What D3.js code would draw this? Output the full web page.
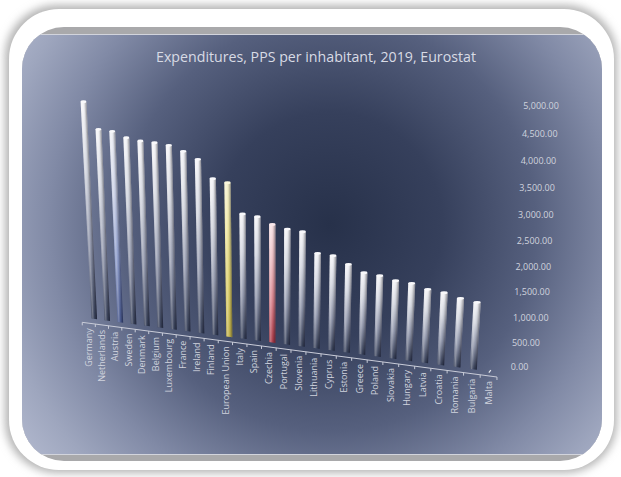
<!DOCTYPE html>
<html>
<head>
<meta charset="utf-8">
<script src="https://cdn.jsdelivr.net/npm/d3@7"></script>
<style>
  body { margin: 0; background: #ffffff; }
  svg { display: block; font-family: "Open Sans", "Noto Sans", sans-serif; }
</style>
</head>
<body>
<div id="chart"></div>
<script>
// data (PPS per inhabitant, 2019)
const countries = ["Germany", "Netherlands", "Austria", "Sweden", "Denmark", "Belgium", "Luxembourg",
    "France", "Ireland", "Finland", "European Union", "Italy", "Spain", "Czechia", "Portugal", "Slovenia",
    "Lithuania", "Cyprus", "Estonia", "Greece", "Poland", "Slovakia", "Hungary", "Latvia", "Croatia",
    "Romania", "Bulgaria", "Malta"];
const values = [4511, 3985, 3964, 3857, 3812, 3798, 3768, 3671, 3537, 3182, 3128, 2541, 2515, 2389,
    2329, 2305, 1913, 1898, 1762, 1630, 1605, 1542, 1525, 1444, 1414, 1342, 1302, 0];
const valueTicks = [0, 500, 1000, 1500, 2000, 2500, 3000, 3500, 4000, 4500, 5000];
const title = "Expenditures, PPS per inhabitant, 2019, Eurostat";

const width = 621, height = 477;

const svg = d3.select("#chart").append("svg")
    .attr("width", width)
    .attr("height", height);

const defs = svg.append("defs");

// category -> position along the row, value -> height (0..1)
const u = d3.scalePoint().domain(countries).range([0, countries.length - 1]);
const v = d3.scaleLinear().domain([0, 5000]).range([0, 1]);

// perspective of the plane holding the bars
const H = { a: 12.494, b: -17.23, c: 94.3, d: 0.3173, e: -247.05, f: 318.8, g: -0.0044, h: -0.06335 };
const project = (uu, vv) => {
    const D = H.g * uu + H.h * vv + 1;
    return [(H.a * uu + H.b * vv + H.c) / D, (H.d * uu + H.e * vv + H.f) / D];
};
// value axis sits on the back wall
const axisPt = vv => {
    const D = 1 - 0.0622 * vv;
    return [(510.7 - 19.95 * vv) / D, (367.3 - 268.18 * vv) / D];
};
// front edge of the floor
const frontDx = d3.scaleLinear().domain([-0.5, countries.length - 0.5]).range([-5.6, -1.2]);
const frontPt = uu => {
    const p = project(uu, 0);
    return [p[0] + frontDx(uu), p[1] + 4.4];
};

// ---- frame ----
const shadow = defs.append("filter").attr("id", "shadow")
    .attr("x", -0.1).attr("y", -0.1).attr("width", 1.2).attr("height", 1.2);
shadow.append("feGaussianBlur").attr("stdDeviation", 4);

svg.append("rect")
    .attr("x", 5).attr("y", 5).attr("width", 612).attr("height", 468)
    .attr("rx", 52).attr("fill", "#b4b4b4")
    .attr("filter", "url(#shadow)");

svg.append("rect")
    .attr("x", 9).attr("y", 9).attr("width", 605).attr("height", 461)
    .attr("rx", 50).attr("fill", "#ffffff");

const bg = defs.append("radialGradient").attr("id", "bg")
    .attr("gradientUnits", "userSpaceOnUse")
    .attr("cx", 330).attr("cy", 225).attr("r", 375);
[[0, "#27314a"], [0.3, "#36405c"], [0.55, "#56607e"], [0.75, "#818aa6"], [0.9, "#9ea6be"], [1, "#aeb5cb"]]
    .forEach(s => bg.append("stop").attr("offset", s[0]).attr("stop-color", s[1]));

defs.append("clipPath").attr("id", "area")
    .append("rect")
    .attr("x", 22).attr("y", 27).attr("width", 580).attr("height", 434).attr("rx", 42);

const area = svg.append("g").attr("clip-path", "url(#area)");
area.append("rect")
    .attr("x", 22).attr("y", 27).attr("width", 580).attr("height", 434)
    .attr("fill", "#a9a9ab");
area.append("rect")
    .attr("x", 22).attr("y", 34).attr("width", 580).attr("height", 421)
    .attr("fill", "#d2d4dc");
area.append("rect")
    .attr("x", 22).attr("y", 35).attr("width", 580).attr("height", 419)
    .attr("fill", "url(#bg)");

// ---- title ----
svg.append("text")
    .attr("x", 316).attr("y", 57)
    .attr("dy", "0.35em")
    .attr("text-anchor", "middle")
    .attr("font-size", 14.2)
    .attr("fill", "#d8dbe5")
    .text(title);

// ---- bar styles ----
const fades = {
    base: ["#f6f6f9", "#d3d6df", "#8f95aa", "#353e57"],
    eu: ["#f8f4d2", "#eee69e", "#ddd06c", "#c2b24a"],
    cz: ["#f8e3e6", "#ecbcc2", "#d8828c", "#a93846"],
    at: ["#f0f1f6", "#ccd2e7", "#8e9dcc", "#44548a"]
};
const styleOf = c => c === "European Union" ? "eu" : c === "Czechia" ? "cz" : c === "Austria" ? "at" : "base";

Object.entries(fades).forEach(([k, cols]) => {
    const gr = defs.append("linearGradient").attr("id", "fade-" + k)
        .attr("x1", 0).attr("y1", 0).attr("x2", 0).attr("y2", 1);
    [0, 0.3, 0.65, 1].forEach((o, i) => gr.append("stop").attr("offset", o).attr("stop-color", cols[i]));
});

// shading across the cylinder, left to right
const shades = [["#ffffff", 0.15], ["#ffffff", 0.3], ["#ffffff", 0.12], ["#000000", 0.04], ["#000000", 0.18], ["#000010", 0.36]];
const hw = 0.215;

const bars = svg.append("g")
    .selectAll("g")
    .data(countries.map((c, i) => ({ name: c, value: values[i] })))
    .enter()
    .append("g");

const quad = (u0, u1, vt) => {
    const pts = [project(u0, vt), project(u1, vt), project(u1, 0), project(u0, 0)];
    return "M" + pts.map(p => p.join(",")).join("L") + "Z";
};

bars.filter(d => d.value > 0)
    .append("path")
    .attr("d", d => quad(u(d.name) - hw, u(d.name) + hw, v(d.value)))
    .attr("fill", d => `url(#fade-${styleOf(d.name)})`);

bars.filter(d => d.value > 0)
    .each(function (d) {
        const g = d3.select(this);
        const step = 2 * hw / shades.length;
        shades.forEach((s, k) => {
            const a = u(d.name) - hw + k * step;
            g.append("path")
                .attr("d", quad(a, a + step, v(d.value)))
                .attr("fill", s[0])
                .attr("fill-opacity", s[1]);
        });
    });

// top caps
bars.filter(d => d.value > 0)
    .append("ellipse")
    .attr("cx", d => project(u(d.name), v(d.value))[0])
    .attr("cy", d => project(u(d.name), v(d.value))[1])
    .attr("rx", d => (project(u(d.name) + hw, v(d.value))[0] - project(u(d.name) - hw, v(d.value))[0]) / 2)
    .attr("ry", 1.4)
    .attr("fill", d => styleOf(d.name) === "eu" ? "#fbf8dc" : styleOf(d.name) === "cz" ? "#fbe9ec" : "#f9f9fb");

// empty bar (Malta): just a sliver of cap
bars.filter(d => d.value === 0)
    .append("path")
    .attr("d", d => {
        const p = project(u(d.name), 0);
        return d3.line()([[p[0] - 1, p[1] + 1], [p[0] + 1, p[1] - 1.5]]);
    })
    .attr("stroke", "#e6e8ef")
    .attr("stroke-width", 1.2);

// ---- category axis ----
const axisG = svg.append("g").attr("stroke", "#c9ccd8").attr("stroke-width", 1);
const bounds = d3.range(countries.length + 1).map(i => i - 0.5);

axisG.append("path")
    .attr("fill", "none")
    .attr("d", d3.line()([frontPt(bounds[0]), frontPt(bounds[bounds.length - 1])]));

axisG.selectAll("line")
    .data(bounds)
    .enter()
    .append("line")
    .attr("x1", d => frontPt(d)[0])
    .attr("y1", d => frontPt(d)[1])
    .attr("x2", d => frontPt(d)[0])
    .attr("y2", d => frontPt(d)[1] + 3);

svg.append("g")
    .selectAll("text")
    .data(countries)
    .enter()
    .append("text")
    .attr("transform", d => `translate(${frontPt(u(d))[0]},${frontPt(u(d))[1] + 5}) rotate(-90)`)
    .attr("dy", "0.35em")
    .attr("text-anchor", "end")
    .attr("font-size", 9)
    .attr("fill", "#d0d3de")
    .text(d => d);

// ---- value axis labels ----
const fmt = d3.format(",.2f");
svg.append("g")
    .selectAll("text")
    .data(valueTicks)
    .enter()
    .append("text")
    .attr("x", d => axisPt(v(d))[0])
    .attr("y", d => axisPt(v(d))[1])
    .attr("dy", "0.35em")
    .attr("font-size", 9)
    .attr("fill", "#d0d3de")
    .text(d => fmt(d));
</script>
</body>
</html>
